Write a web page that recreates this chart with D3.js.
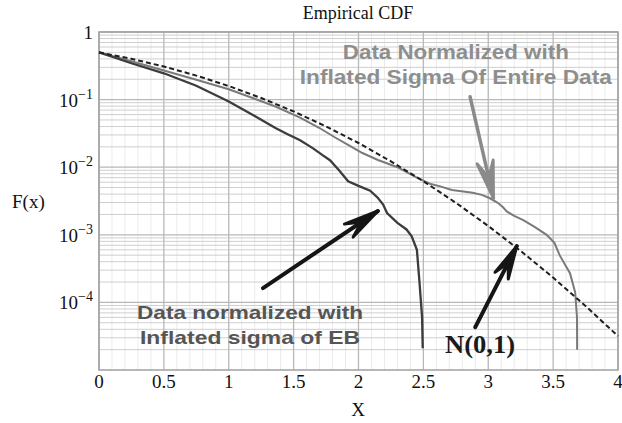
<!DOCTYPE html>
<html><head><meta charset="utf-8">
<script src="https://cdnjs.cloudflare.com/ajax/libs/d3/7.8.5/d3.min.js"></script>
<style>body{margin:0;background:#fff}svg{display:block}</style>
</head><body><svg id="c" width="622" height="423"></svg>
<script>
// ---- data ----
const normalX = [0,0.25,0.5,0.75,1,1.25,1.5,1.75,2,2.25,2.5,2.75,3,3.25,3.5,3.75,4];
const normalF = [0.5,0.401,0.3085,0.2266,0.1587,0.1056,0.0668,0.0401,0.0228,0.0122,0.0062,0.00298,0.00135,0.000577,0.000233,0.0000884,0.0000317];

const ebX = [0,0.1,0.25,0.5,0.75,1.0,1.2,1.36,1.45,1.55,1.65,1.72,1.78,1.85,1.92,2.0,2.09,2.15,2.19,2.22,2.3,2.37,2.41,2.45,2.47,2.49,2.495];
const ebF = [0.5,0.43,0.345,0.245,0.16,0.094,0.057,0.038,0.031,0.025,0.019,0.0152,0.0127,0.009,0.0062,0.0053,0.0045,0.0035,0.0028,0.0021,0.0015,0.0012,0.00095,0.0006,0.0002,0.00006,0.000021];

const allX = [0,0.25,0.5,0.75,1.0,1.2,1.36,1.55,1.7,1.82,1.93,2.03,2.15,2.3,2.45,2.55,2.63,2.72,2.88,2.95,3.01,3.07,3.11,3.145,3.2,3.27,3.36,3.45,3.51,3.55,3.6,3.63,3.67,3.684,3.685];
const allF = [0.5,0.37,0.27,0.197,0.142,0.103,0.079,0.054,0.038,0.0275,0.0208,0.0162,0.0128,0.0100,0.0070,0.0057,0.0052,0.0046,0.0042,0.0039,0.0035,0.003,0.0026,0.0022,0.0019,0.00165,0.0013,0.001,0.00076,0.0005,0.00034,0.00027,0.00014,0.00006,0.00002];

const xTicks = [0,0.5,1,1.5,2,2.5,3,3.5,4];
const xTickLabels = ["0","0.5","1","1.5","2","2.5","3","3.5","4"];
const yTicks = [1,1e-1,1e-2,1e-3,1e-4];
const yTickExp = ["","−1","−2","−3","−4"];

// annotations (data coords)
const arrowAll = [[2.86,0.11],[3.04,0.0035]];
const arrowEB = [[1.264,1.63e-4],[2.15,0.00225]];
const arrowN = [[2.90,4.3e-5],[3.22,6.8e-4]];

// ---- layout ----
const svg = d3.select("#c");
const L=99, R=618, T=32, B=370;
const x = d3.scaleLinear().domain([0,4]).range([L,R]);
const y = d3.scaleLog().domain([1e-5,1]).range([B,T]);

// grid
const g = svg.append("g");
const minorX = d3.range(0,4.0001,0.1).filter(v=>Math.abs(v*2-Math.round(v*2))>1e-6);
g.selectAll(".mx").data(minorX).enter().append("line")
 .attr("x1",d=>x(d)).attr("x2",d=>x(d)).attr("y1",T).attr("y2",B)
 .attr("stroke","#ebebeb").attr("stroke-width",1);
const minorY=[];
for(let e=-5;e<0;e++) for(let k=2;k<10;k++) minorY.push(k*Math.pow(10,e));
g.selectAll(".my").data(minorY).enter().append("line")
 .attr("x1",L).attr("x2",R).attr("y1",d=>y(d)).attr("y2",d=>y(d))
 .attr("stroke","#cfcfcf").attr("stroke-width",1);
g.selectAll(".Mx").data(xTicks).enter().append("line")
 .attr("x1",d=>x(d)).attr("x2",d=>x(d)).attr("y1",T).attr("y2",B)
 .attr("stroke","#b8b8b8").attr("stroke-width",1.3);
g.selectAll(".My").data(yTicks).enter().append("line")
 .attr("x1",L).attr("x2",R).attr("y1",d=>y(d)).attr("y2",d=>y(d))
 .attr("stroke","#b8b8b8").attr("stroke-width",1.3);
svg.append("rect").attr("x",L).attr("y",T).attr("width",R-L).attr("height",B-T)
 .attr("fill","none").attr("stroke","#a0a0a0").attr("stroke-width",1.5);

// curves
const line = d3.line().x(d=>x(d[0])).y(d=>y(d[1]));
const zip=(a,b)=>a.map((v,i)=>[v,b[i]]);
svg.append("path").attr("d",line(zip(allX,allF))).attr("fill","none")
 .attr("stroke","#7a7a7a").attr("stroke-width",2);
svg.append("path").attr("d",line(zip(ebX,ebF))).attr("fill","none")
 .attr("stroke","#3c3c3c").attr("stroke-width",2.3);
svg.append("path").attr("d",line(zip(normalX,normalF))).attr("fill","none")
 .attr("stroke","#1e1e1e").attr("stroke-width",2).attr("stroke-dasharray","5,3");

// arrows
function arrow(pts,color,w,head){
  const [x1,y1]=[x(pts[0][0]),y(pts[0][1])], [x2,y2]=[x(pts[1][0]),y(pts[1][1])];
  const a=Math.atan2(y2-y1,x2-x1);
  svg.append("line").attr("x1",x1).attr("y1",y1).attr("x2",x2).attr("y2",y2)
   .attr("stroke",color).attr("stroke-width",w).attr("stroke-linecap","round");
  const s=0.22;
  const p1=[x2-head*Math.cos(a+s), y2-head*Math.sin(a+s)];
  const p2=[x2-head*Math.cos(a-s), y2-head*Math.sin(a-s)];
  const pm=[x2-head*0.55*Math.cos(a), y2-head*0.55*Math.sin(a)];
  svg.append("path").attr("d",`M${p1}L${x2},${y2}L${p2}L${pm}Z`)
   .attr("fill",color).attr("stroke",color).attr("stroke-width",3).attr("stroke-linejoin","round");
}
arrow(arrowAll,"#8a8a8a",3.5,38);
arrow(arrowEB,"#151515",4,36);
arrow(arrowN,"#151515",4,34);

// annotation text
const sans="'Liberation Sans', Arial, sans-serif";
svg.append("text").attr("x",x(2.75)).attr("y",y(0.40)).attr("text-anchor","middle")
 .attr("font-family",sans).attr("font-weight","bold").attr("font-size",20).attr("fill","#8e8e8e")
 .attr("textLength",226).attr("lengthAdjust","spacingAndGlyphs").text("Data Normalized with");
svg.append("text").attr("x",x(2.75)).attr("y",y(0.17)).attr("text-anchor","middle")
 .attr("font-family",sans).attr("font-weight","bold").attr("font-size",20).attr("fill","#8e8e8e")
 .attr("textLength",312).attr("lengthAdjust","spacingAndGlyphs").text("Inflated Sigma Of Entire Data");
svg.append("text").attr("x",x(0.293)).attr("y",y(5.7e-5))
 .attr("font-family",sans).attr("font-weight","bold").attr("font-size",19).attr("fill","#555")
 .attr("textLength",226).attr("lengthAdjust","spacingAndGlyphs").text("Data normalized with");
svg.append("text").attr("x",x(0.316)).attr("y",y(2.4e-5))
 .attr("font-family",sans).attr("font-weight","bold").attr("font-size",19).attr("fill","#555")
 .attr("textLength",220).attr("lengthAdjust","spacingAndGlyphs").text("Inflated sigma of EB");
svg.append("text").attr("x",x(2.667)).attr("y",y(1.8e-5))
 .attr("font-family","'Liberation Serif', 'Times New Roman', serif").attr("font-weight","bold")
 .attr("font-size",25).attr("fill","#1a1a1a")
 .attr("textLength",70).attr("lengthAdjust","spacingAndGlyphs").text("N(0,1)");

// axes labels
const serif="'Liberation Serif', 'Times New Roman', serif";
svg.selectAll(".xt").data(xTicks).enter().append("text")
 .attr("x",d=>x(d)).attr("y",B+18).attr("text-anchor","middle")
 .attr("font-family",serif).attr("font-size",19).attr("fill","#111")
 .text((d,i)=>xTickLabels[i]);
const yt = svg.selectAll(".yt").data(yTicks).enter().append("text")
 .attr("x",93).attr("y",d=>y(d)+7).attr("text-anchor","end")
 .attr("font-family",serif).attr("font-size",19).attr("fill","#111");
yt.each(function(d,i){
  const t=d3.select(this);
  if(i===0){ t.text("1"); return; }
  t.append("tspan").text("10");
  t.append("tspan").attr("dy",-8).attr("font-size",14).text(yTickExp[i]);
});
svg.append("text").attr("x",358).attr("y",19).attr("text-anchor","middle")
 .attr("font-family",serif).attr("font-size",18).attr("fill","#111").text("Empirical CDF");
svg.append("text").attr("x",358).attr("y",416).attr("text-anchor","middle")
 .attr("font-family",serif).attr("font-size",19).attr("fill","#111").text("X");
svg.append("text").attr("x",12).attr("y",208)
 .attr("font-family",serif).attr("font-size",19).attr("fill","#111").text("F(x)");
</script></body></html>
